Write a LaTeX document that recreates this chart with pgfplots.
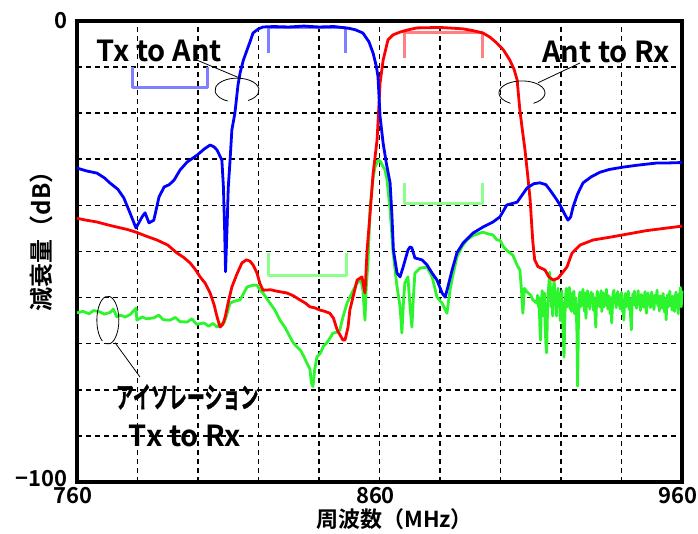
\documentclass[border=0pt]{standalone}
\usepackage{fontspec}
\setmainfont{Noto Sans CJK JP}[BoldFont={Noto Sans CJK JP Bold}]
\newfontfamily\kataf{Noto Sans CJK JP Bold}[FakeBold=1.5]
\usepackage{pgfplots}
\pgfplotsset{compat=1.18}
\definecolor{cblue}{RGB}{0,0,255}
\definecolor{cred}{RGB}{255,0,0}
\definecolor{cgreen}{RGB}{45,245,45}
\definecolor{lblue}{RGB}{128,128,255}
\definecolor{lred}{RGB}{255,128,128}
\definecolor{lgreen}{RGB}{140,255,140}
\newcommand\tickf{\fontsize{22bp}{24bp}\selectfont\bfseries}
\newcommand\labf{\fontsize{22bp}{24bp}\selectfont\bfseries}
\newcommand\ylabf{\fontsize{24bp}{26bp}\selectfont\bfseries}
\newcommand\annf{\fontsize{29bp}{32bp}\selectfont\bfseries}
\begin{document}
\begin{tikzpicture}
\useasboundingbox (-77bp,-52bp) rectangle (621bp,482bp);
\begin{axis}[
  at={(0,0)}, anchor=south west,
  scale only axis, width=605bp, height=461bp,
  xmin=760, xmax=960, ymin=-100, ymax=0,
  xtick={760,780,...,960},
  xticklabels={760,,,,,860,,,,,960},
  ytick={-100,-90,...,0},
  yticklabels={\raisebox{7bp}{−100},,,,,,,,,,0},
  major tick length=0pt,
  tick label style={font=\tickf},
  xticklabel style={xshift=-4bp, yshift=-2bp},
  yticklabel style={xshift=-6bp},
  grid=major,
  major grid style={black, line width=1.6bp, dash pattern=on 5bp off 4bp},
  axis line style={black, line width=3.2bp},
  clip=false,
  every axis plot/.append style={line width=2.8bp, line join=round},
]
% spec brackets
\addplot[lblue, line width=3bp] coordinates {(823.3,-7) (823.3,-1.5) (848.8,-1.5) (848.8,-7)};
\addplot[lblue, line width=3bp] coordinates {(778.2,-10) (778.2,-14.5) (803.3,-14.5) (803.3,-10)};
\addplot[lred, line width=3bp] coordinates {(868.4,-8) (868.4,-2.6) (894.2,-2.6) (894.2,-8)};
\addplot[lgreen, line width=3bp] coordinates {(823.2,-50.3) (823.2,-55.1) (849.2,-55.1) (849.2,-50.3)};
\addplot[lgreen, line width=3bp] coordinates {(868.4,-35.1) (868.4,-39.6) (894.2,-39.6) (894.2,-35.1)};
% Isolation Tx to Rx (green)
\addplot[cgreen] table {
760 -63.3
762 -63.0
764 -63.5
765.5 -62.8
767.6 -63.1
769 -63.6
771 -63.2
772 -62.5
773.2 -64.2
774.2 -63.8
776 -64.2
777.5 -63.7
779.5 -62.3
779.8 -64.9
781.5 -64.2
783 -64.6
785.4 -64.4
787 -63.8
788.5 -64.8
790.7 -64.9
792.5 -64.3
794 -65.2
796.4 -65.3
798 -64.6
799.5 -65.8
802 -65.5
803.5 -66.2
805 -65.6
806.3 -66.4
807.2 -65.8
808.6 -65.5
809.6 -63.5
810.6 -61.2
812 -60.8
813.9 -60.5
815 -59.2
816.2 -57.7
818.2 -57.3
819.5 -57.3
820.5 -58.4
821.5 -59
822.8 -60.3
823.8 -61.2
825.5 -62.8
827.1 -64.9
828.8 -66.5
830.4 -68.5
831.5 -69.8
832.7 -70.7
834 -71.5
835 -72.8
836 -74.2
837 -75.5
837.5 -78.5
838 -79.3
838.6 -75.5
839.3 -72.9
840.5 -72
841.5 -70.5
842.6 -69.8
843.6 -68.8
844.6 -67.7
846 -67.5
846.9 -67
848 -64
849.3 -61.2
851 -58.8
852.6 -56.8
853.9 -56.2
854.5 -58.4
855.2 -64.9
855.6 -58
856.2 -52.5
856.9 -40.3
857.9 -34
858.5 -31.7
859.5 -30.2
860.2 -30.4
861.8 -32.3
862.5 -34.5
863.5 -41
864.5 -50.3
865.8 -57.7
866.8 -62
867.4 -67.7
868 -60
868.4 -56.8
869.4 -55.5
870.1 -62
870.7 -66.4
871.2 -60
871.7 -54.7
873.4 -53.6
875.7 -53.4
877.4 -55.5
879 -59.9
880.7 -61.2
882.3 -63.4
883.3 -58.4
884.3 -55
885.6 -51.2
887.2 -49
888.9 -47.5
891 -46.5
894.2 -45.8
896 -46.2
897.5 -46.4
898.8 -47.5
899.8 -47.5
901 -49
902.5 -50
904.1 -50.8
905.5 -53
906.4 -54
906.9 -58
907.4 -63.4
907.9 -58
908.8 -58.8
910 -59.5
910.7 -60.5
912.0 -61.2
912.25 -59.5
912.5 -62
912.75 -60
913.0 -66
913.25 -69.2
913.5 -62
913.75 -58.5
914.0 -61
914.25 -64
914.5 -59
914.75 -66
915.0 -70
915.25 -72
915.5 -64
915.75 -59
916.0 -57
916.25 -54.5
916.5 -58
916.75 -62
917.0 -60
917.25 -64
917.5 -58
917.75 -56
918.0 -61
918.25 -59
918.5 -64
918.75 -60
919.0 -58
919.25 -62
919.5 -59
919.75 -65
920.0 -61
920.25 -58.5
920.5 -63
920.75 -68
921.0 -72.9
921.25 -65
921.5 -60
921.75 -58
922.0 -62
922.25 -59
922.5 -61
922.75 -57.8
923.0 -62.5
923.25 -60
923.5 -63
923.75 -59
924.0 -61
924.25 -58.6
924.5 -63.5
924.75 -60
925.0 -62
925.25 -67
925.5 -79.2
925.75 -66
926.0 -60
926.25 -58.8
926.5 -62
926.75 -59
927.0 -61.5
927.25 -58.2
927.5 -60.5
927.75 -63
928.0 -59
928.25 -64.5
928.5 -60
928.75 -58.5
929.0 -61.5
929.25 -59.5
929.5 -62.5
929.75 -60
930.0 -58.8
930.25 -61
930.5 -59.2
930.75 -62.8
931.0 -60
931.25 -63.5
931.5 -66.4
931.75 -61
932.0 -58.6
932.25 -61.8
932.5 -59.5
932.75 -62
933.0 -60
933.25 -58.5
933.5 -63
933.75 -60.5
934.0 -59
934.25 -62
934.5 -60
934.75 -61.5
935.0 -58.2
935.25 -60.8
935.5 -62.5
935.75 -59.6
936.0 -61
936.25 -63.5
936.5 -60
936.75 -65.5
937.0 -62
937.25 -59
937.5 -58.4
937.75 -61.2
938.0 -59.8
938.25 -62.2
938.5 -60
938.75 -58.7
939.0 -61.6
939.25 -59.4
939.5 -62.4
939.75 -60.2
940.0 -58.9
940.25 -63
940.5 -60.4
940.75 -64.9
941.0 -61.2
941.25 -59.1
941.5 -62
941.75 -59.8
942.0 -61.3
942.25 -58.6
942.5 -62.6
942.75 -60.1
943.0 -64
943.25 -67
943.5 -61.5
943.75 -59.2
944.0 -60.9
944.25 -58.6
944.5 -61.7
944.75 -59.9
945.0 -62.3
945.25 -60.2
945.5 -58.5
945.75 -61.4
946.0 -60.1
946.25 -62.8
946.5 -59.3
946.75 -61
947.0 -59.6
947.25 -62.1
947.5 -60.4
947.75 -58.7
948.0 -61.8
948.25 -63.4
948.5 -60.2
948.75 -59
949.0 -61.6
949.25 -59.7
949.5 -62.2
949.75 -60
950.0 -58.8
950.25 -61.9
950.5 -60.3
950.75 -62.6
951.0 -59.5
951.25 -61.2
951.5 -60
951.75 -58.4
952.0 -61.7
952.25 -60.1
952.5 -62.9
952.75 -59.6
953.0 -61.4
953.25 -60
953.5 -62.3
953.75 -59.1
954.0 -61
954.25 -63.2
954.5 -60.2
954.75 -64.8
955.0 -61.3
955.25 -59.4
955.5 -62
955.75 -60
956.0 -58.6
956.25 -61.8
956.5 -60.4
956.75 -62.7
957.0 -59.7
957.25 -61.5
957.5 -63
957.75 -60.1
958.0 -58.8
958.25 -62.2
958.5 -60.5
958.75 -63.5
959.0 -59.2
959.25 -61.3
959.5 -57.8
959.75 -62
960 -58.5
};
% Ant to Rx (red)
\addplot[cred] table {
760 -42.8
763 -43.2
766.6 -43.6
770 -44.2
773.2 -44.7
776.5 -45.2
779.5 -45.8
783 -46.7
786.4 -47.5
790 -48.6
793 -50.3
795.3 -51.3
797.4 -52.5
799 -53.8
800.7 -55.5
802.5 -57
804 -59
805.3 -61.5
806.3 -64.2
807.3 -66.4
808.2 -65.8
809 -64.2
810 -61
811.2 -57.7
812.8 -55
814.5 -52.5
816 -51.8
817.2 -52.1
818.3 -53
819.5 -54.7
820.5 -57
821.5 -58.4
824 -58.3
826 -58.6
829.4 -59
831.5 -59.6
833.7 -60.5
835.5 -61.2
837 -62
838.5 -62.2
840.3 -62.7
842 -63
843.6 -63.4
844.8 -64.5
846 -67
847.9 -69.2
848.6 -69.2
849.6 -66.4
850.2 -62.7
851.2 -60
852.6 -56.2
854.2 -55.5
855.2 -59
855.9 -49.7
856.9 -41.6
857.9 -33
859.2 -25.8
860.2 -13.4
861.2 -8.5
862.8 -4.1
864.5 -3
866.8 -2.4
869.5 -1.9
872.4 -1.5
880 -1.4
887.6 -1.7
891 -2.1
894.2 -2.6
896.5 -3.5
898.8 -4.8
901 -6.3
903.1 -8.5
904.5 -10.5
905.5 -12.8
906.4 -19.3
907.3 -24
908.1 -28
909 -33.5
909.8 -38.8
910.3 -44
910.7 -48
911.3 -51.8
912.4 -53.3
914.7 -54
916 -55.5
917.4 -56.2
919 -55.8
920.5 -54.6
922 -53.3
923.6 -50.4
926.3 -48.6
930.6 -47.5
936.2 -46.9
943.8 -46
948 -45.5
952.7 -45.1
960 -44.5
};
% Tx to Ant (blue)
\addplot[cblue] table {
760 -31.9
763 -32.5
766.6 -33
769 -34
771 -35.2
773.5 -36.5
775.5 -38.4
777.5 -41.6
779.5 -44.9
781.5 -42.5
782.5 -41.6
783.8 -43.8
785.4 -43.2
787.1 -38.2
788.8 -36
790.5 -35.5
792.1 -34.5
794.1 -32.3
796.4 -30.6
799.7 -29.1
802 -27.8
804 -26.9
805.3 -27.3
806.3 -28
807.4 -29.5
807.9 -30.2
808.4 -36
808.8 -45
809.1 -54.4
809.6 -45
810 -36.2
810.6 -30.2
811.2 -23.6
812.2 -20
813.2 -14
813.9 -11.3
815 -8.5
816.2 -6.3
817.2 -4.5
818.2 -2.6
820 -1.7
821.5 -1.3
825 -1.2
830 -1.3
835 -1.1
840 -1.3
845 -1.2
850 -1.6
852 -1.9
854.5 -2.6
856.5 -4.5
857.9 -7
859 -10
859.5 -12.1
860.2 -20.8
861.2 -26.5
862.3 -31
863.5 -35.1
864.1 -42
864.6 -49.7
865.8 -54.7
866.8 -55.5
867.8 -53.4
869.4 -49.7
870.1 -49
870.7 -49.2
871.7 -51.4
874 -51.8
875.7 -52.9
877.4 -54.7
879 -56.2
880.7 -59
881.7 -59.9
882.6 -57.7
884 -54
885.6 -50.3
887.6 -48.2
890.9 -46
894.2 -44.7
897.5 -43.6
899.8 -42.5
902.1 -39.9
905.5 -39.3
908.8 -36.2
911 -35.3
913 -35.1
915 -35.5
916.4 -36.7
918 -38.2
919.7 -39.9
921.3 -42
922.3 -43.2
923.2 -42.5
924 -40.3
925.5 -37.5
927.3 -35.1
930 -33.8
932.9 -32.8
936 -32.2
940.5 -31.7
945 -31.3
951.7 -30.8
955 -30.8
960 -30.7
};
% annotations
\node[font=\annf] at (axis cs:787.1,-6.5) {Tx to Ant};
\draw[black, line width=0.8bp] (axis cs:799.7,-8.5) -- (axis cs:813.9,-12.4);
\draw[black, line width=0.8bp] (axis cs:812.9,-15) ++(-60:22bp and 12bp) arc[start angle=-60, end angle=245, x radius=22bp, y radius=12bp];
\node[font=\annf] at (axis cs:934.9,-6.7) {Ant to Rx};
\draw[black, line width=0.8bp] (axis cs:926.3,-9.1) -- (axis cs:912.4,-13.4);
\draw[black, line width=0.8bp] (axis cs:907.1,-15.6) ++(-60:23bp and 12bp) arc[start angle=-60, end angle=240, x radius=23bp, y radius=12bp];
\draw[black, line width=0.8bp] (axis cs:770.2,-64.9) ++(-100:11bp and 24bp) arc[start angle=-100, end angle=240, x radius=11bp, y radius=24bp];
\draw[black, line width=0.8bp] (axis cs:772.6,-69.8) -- (axis cs:780.8,-77.2);
\node at (axis cs:796.4,-81.6) {\fontsize{29bp}{32bp}\kataf\scalebox{0.62}[1]{アイソレーション}};
\node[font=\annf] at (axis cs:795.7,-90) {Tx to Rx};
% axis labels
\node[font=\labf] at (axis cs:865,-108) {周波数（MHz）};
\node[font=\ylabf, rotate=90] at (axis cs:748.1,-46.5) {減衰量（dB）};
\end{axis}
\end{tikzpicture}
\end{document}
